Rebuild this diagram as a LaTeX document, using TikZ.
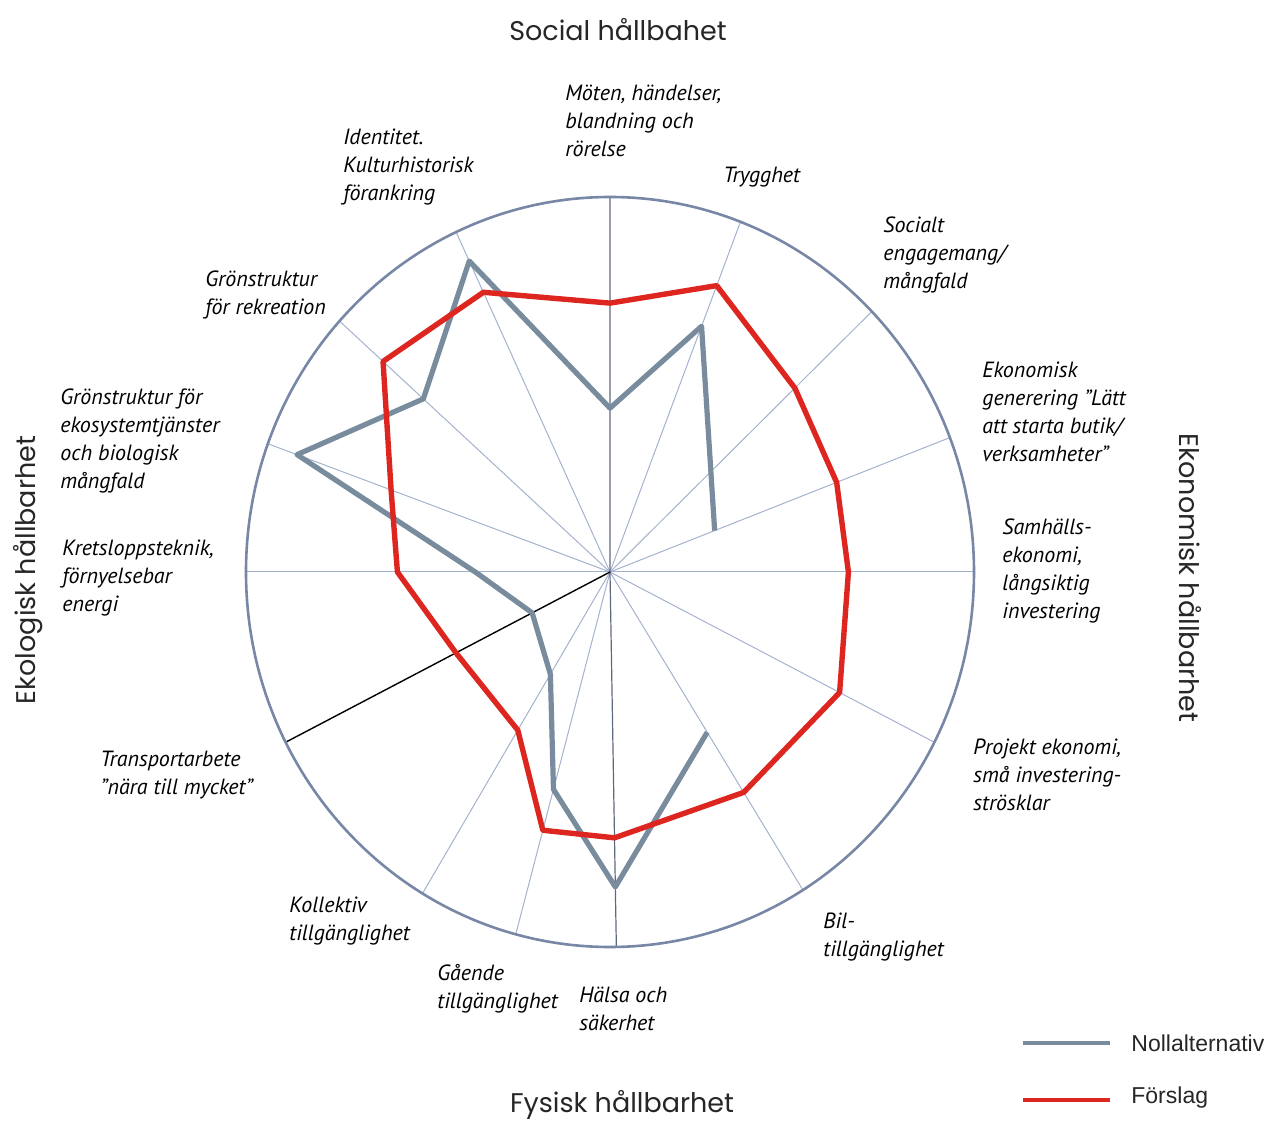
\documentclass[tikz,border=0pt]{standalone}
\usepackage{fontspec}
\setmainfont{PT Sans}
\newfontfamily\titlefont{Poppins}
\newfontfamily\legendfont{Liberation Sans}

\definecolor{rim}{RGB}{120,135,165}
\definecolor{spoke}{RGB}{165,178,205}
\definecolor{axis}{RGB}{95,105,125}
\definecolor{noll}{RGB}{120,140,158}
\definecolor{forslag}{RGB}{222,38,32}

\begin{document}
\begin{tikzpicture}[x=0.5pt, y=0.5pt,
    lbl/.style={anchor=north west, align=left, inner sep=0pt, font=\itshape\fontsize{11}{14}\selectfont},
    hdr/.style={inner sep=0pt, text=black!85, font=\titlefont\fontsize{13.5}{16}\selectfont},
    leg/.style={anchor=west, inner sep=0pt, text=black!85, font=\legendfont\fontsize{11.5}{13}\selectfont},
    nollline/.style={noll, line width=2.6pt, line join=round},
    forslagline/.style={forslag, line width=2.7pt, line join=round}]

  \useasboundingbox (-610,-552) rectangle (654,572);

  % Radar chart
  \begin{scope}[x=182pt, y=187.5pt]
    \coordinate (c) at (0,0);
    \foreach \ang/\fv/\nv [count=\i] in {90/0.717/0.437, 69/0.818/0.702, 44/0.706/0,
        21/0.667/0.308, 0/0.655/0, -27/0.708/0, -58/0.693/0.504, -89/0.709/0.84,
        -105/0.713/0.60, -121/0.492/0.318, -153/0.475/0.24, 180/0.584/0.37,
        160/0.64/0.915, 138/0.839/0.69, 115/0.823/0.915}
    {
      \coordinate (s\i) at (\ang:1);
      \coordinate (f\i) at (\ang:\fv);
      \coordinate (n\i) at (\ang:\nv);
    }

    % Spokes
    \foreach \i in {2,3,4,5,6,7,9,10,12,13,14,15}
      \draw[spoke, line width=0.5pt] (c) -- (s\i);
    \draw[axis, line width=0.6pt] (s1) -- (c) -- (s8);
    \draw[black, line width=0.7pt] (c) -- (s11);
    \draw[rim, line width=1.3pt] (c) ellipse [x radius=1, y radius=1];

    % Nollalternativ and Förslag
    \draw[nollline] (n7) -- (n8) -- (n9) -- (n10) -- (n11) -- (n12) -- (n13)
      -- (n14) -- (n15) -- (n1) -- (n2) -- (n4);
    \draw[forslagline] (f1) \foreach \i in {2,...,15}{ -- (f\i)} -- cycle;
  \end{scope}

  % Labels
  \node[lbl] (moten) at (-45,487) {Möten, händelser,\\blandning och\\rörelse};
  \node[lbl] (trygg) at (113,405) {Trygghet};
  \node[lbl] (ident) at (-267,443) {Identitet.\\Kulturhistorisk\\förankring};
  \node[lbl] (socialt) at (273,356) {Socialt\\engagemang/\\mångfald};
  \node[lbl] (gronrek) at (-405,302) {Grönstruktur\\för rekreation};
  \node[lbl] (ekgen) at (372,210) {Ekonomisk\\generering ”Lätt\\att starta butik/\\verksamheter”};
  \node[lbl] (groneko) at (-550,184) {Grönstruktur för\\ekosystemtjänster\\och biologisk\\mångfald};
  \node[lbl] (samh) at (392,54) {Samhälls-\\ekonomi,\\långsiktig\\investering};
  \node[lbl] (krets) at (-548,32) {Kretsloppsteknik,\\förnyelsebar\\energi};
  \node[lbl] (projekt) at (363,-167) {Projekt ekonomi,\\små investering-\\strösklar};
  \node[lbl] (transp) at (-510,-179) {Transportarbete\\”nära till mycket”};
  \node[lbl] (bil) at (213,-341) {Bil-\\tillgänglighet};
  \node[lbl] (kollektiv) at (-321,-325) {Kollektiv\\tillgänglighet};
  \node[lbl] (gaende) at (-173,-392) {Gående\\tillgänglighet};
  \node[lbl] (halsa) at (-31,-415) {Hälsa och\\säkerhet};

  % Headings
  \node[hdr] (social) at (8,542) {Social hållbahet};
  \node[hdr] (fysisk) at (12,-533) {Fysisk hållbarhet};
  \node[hdr, rotate=90] (ekologisk) at (-582,2) {Ekologisk hållbarhet};
  \node[hdr, rotate=-90] (ekonomisk) at (580,-6) {Ekonomisk hållbarhet};

  % Legend
  \coordinate (l1a) at (413,-471);
  \coordinate (l1b) at (500,-471);
  \coordinate (l2a) at (413,-528);
  \coordinate (l2b) at (500,-528);
  \draw[noll, line width=2.2pt] (l1a) -- (l1b);
  \draw[forslag, line width=2.2pt] (l2a) -- (l2b);
  \node[leg] (nolltxt) at (521,-471) {Nollalternativ};
  \node[leg] (forslagtxt) at (521,-526) {Förslag};
\end{tikzpicture}
\end{document}
